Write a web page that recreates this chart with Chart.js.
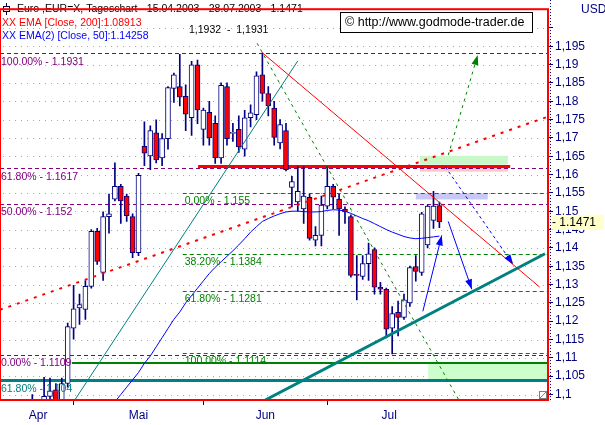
<!DOCTYPE html>
<html lang="de">
<head>
<meta charset="utf-8">
<title>Euro Tageschart</title>
<script src="https://cdn.jsdelivr.net/npm/chart.js@4.4.1/dist/chart.umd.min.js"></script>
<style>
  html, body { margin: 0; padding: 0; background: #ffffff; overflow: hidden; }
  canvas { display: block; }
</style>
</head>
<body>
<canvas id="chartEuro" width="605" height="425"></canvas>
<script>
// Kerzen: Index 0 = 15.04.2003 ... 74 = 28.07.2003 (nur Handelstage)
const opens = [1.0800,1.0830,1.0860,1.0880,1.0900,1.0930,1.0960,1.0950,1.0995,1.1013,
  1.0980,1.1030,1.1181,1.1236,1.1232,1.1295,1.1445,1.1333,1.1485,1.1533,
  1.1568,1.1541,1.1485,1.1387,1.1677,1.1651,1.1714,1.1645,1.1698,1.1835,
  1.1840,1.1813,1.1755,1.1899,1.1723,1.1770,1.1740,1.1645,1.1840,1.1712,
  1.1723,1.1669,1.1755,1.1763,1.1872,1.1821,1.1781,1.1686,1.1720,1.1565,
  1.1525,1.1506,1.1538,1.1421,1.1434,1.1514,1.1568,1.1533,1.1506,1.1485,
  1.1328,1.1322,1.1357,1.1395,1.1293,1.1287,1.1181,1.1224,1.1210,1.1250,
  1.1349,1.1333,1.1408,1.1475,1.1515];
const highs = [1.0850,1.0880,1.0900,1.0920,1.0950,1.1000,1.0980,1.1047,1.1045,1.1030,
  1.1045,1.1195,1.1298,1.1274,1.1311,1.1450,1.1453,1.1498,1.1547,1.1632,
  1.1573,1.1547,1.1493,1.1603,1.1744,1.1733,1.1749,1.1712,1.1840,1.1877,
  1.1928,1.1845,1.1909,1.1912,1.1781,1.1800,1.1760,1.1850,1.1850,1.1740,
  1.1760,1.1775,1.1790,1.1880,1.1932,1.1840,1.1800,1.1750,1.1740,1.1595,
  1.1621,1.1621,1.1546,1.1458,1.1541,1.1621,1.1573,1.1546,1.1512,1.1490,
  1.1379,1.1379,1.1413,1.1400,1.1306,1.1290,1.1240,1.1255,1.1274,1.1350,
  1.1379,1.1497,1.1517,1.1554,1.1525];
const lows = [1.0780,1.0810,1.0840,1.0860,1.0880,1.0910,1.0920,1.0930,1.0950,1.0950,
  1.0960,1.1020,1.1151,1.1191,1.1205,1.1290,1.1355,1.1311,1.1440,1.1528,
  1.1467,1.1472,1.1373,1.1379,1.1624,1.1613,1.1632,1.1624,1.1669,1.1797,
  1.1787,1.1720,1.1707,1.1739,1.1680,1.1680,1.1630,1.1630,1.1680,1.1690,
  1.1660,1.1650,1.1730,1.1750,1.1800,1.1760,1.1680,1.1670,1.1610,1.1512,
  1.1501,1.1467,1.1421,1.1405,1.1405,1.1506,1.1506,1.1434,1.1467,1.1320,
  1.1258,1.1314,1.1311,1.1274,1.1274,1.1154,1.1111,1.1160,1.1205,1.1240,
  1.1309,1.1325,1.1400,1.1453,1.1455];
const closes = [1.0830,1.0860,1.0880,1.0900,1.0930,1.0960,1.0950,1.0995,1.1010,1.0975,
  1.1030,1.1185,1.1234,1.1245,1.1295,1.1445,1.1363,1.1485,1.1493,1.1568,
  1.1528,1.1488,1.1387,1.1598,1.1658,1.1720,1.1640,1.1698,1.1837,1.1872,
  1.1811,1.1765,1.1899,1.1776,1.1776,1.1700,1.1645,1.1843,1.1698,1.1715,
  1.1675,1.1755,1.1768,1.1869,1.1821,1.1787,1.1701,1.1736,1.1613,1.1581,
  1.1554,1.1541,1.1426,1.1434,1.1517,1.1568,1.1538,1.1506,1.1498,1.1325,
  1.1325,1.1357,1.1384,1.1293,1.1287,1.1178,1.1221,1.1210,1.1258,1.1346,
  1.1336,1.1493,1.1514,1.1514,1.1471];

// EMA(2) [Close, 50], beginnt bei Index 17
const emaStart = 17;
const emaValues = [1.0945,1.0965,1.0980,1.1000,1.1020,1.1040,1.1060,1.1085,1.1105,1.1130,
  1.1155,1.1180,1.1205,1.1225,1.1250,1.1270,1.1290,1.1310,1.1330,1.1347,
  1.1362,1.1377,1.1392,1.1408,1.1425,1.1443,1.1458,1.1472,1.1480,1.1487,
  1.1493,1.1498,1.1500,1.1500,1.1499,1.1498,1.1498,1.1499,1.1502,1.1504,
  1.1503,1.1500,1.1494,1.1487,1.1480,1.1474,1.1466,1.1458,1.1450,1.1443,
  1.1437,1.1431,1.1427,1.1425,1.1426,1.1428,1.1430,1.1432];

// Achsen
const monthNames = ['Apr', 'Mai', 'Jun', 'Jul'];
const monthCenters = [6, 23, 44.5, 65.5];
const monthStarts = [12, 34, 55];
const yTicks = [1.1, 1.105, 1.11, 1.115, 1.12, 1.125, 1.13, 1.135, 1.14, 1.145, 1.15,
  1.155, 1.16, 1.165, 1.17, 1.175, 1.18, 1.185, 1.19, 1.195, 1.2];

// Fibonacci-Retracements (links beschriftet)
const fibValues = [1.1931, 1.1617, 1.152, 1.1109];
const fibLabels = ['100.00% - 1.1931', '61.80% - 1.1617', '50.00% - 1.152', '0.00% - 1.1109'];
const fibTealValue = 1.104;
const fibTealLabel = '61.80% - 1.104';

// Fibonacci-Projektion ab Index 30.5
const extStart = 30.5;
const extValues = [1.155, 1.1384, 1.1281, 1.1114];
const extLabels = ['0.00% - 1.155', '38.20% - 1.1384', '61.80% - 1.1281', '100.00% - 1.1114'];

// Zonen [von, bis, unten, oben]
const boxUpperGreen = [70.7, 85.6, 1.1627, 1.1651];
const boxUpperPink = [70.7, 85.6, 1.1608, 1.1624];
const boxBlue = [70.0, 82.2, 1.1532, 1.1549];
const boxLowerGreen = [72.1, 92.4, 1.1040, 1.1085];

// Horizontale Linien [von, bis, Kurs]
const resistanceRed = [33.1, 86.0, 1.1622];
const supportGreen = [11.7, 92.4, 1.1085];

// Trendlinien und Pfeile
const trendRed = [{x: 44, y: 1.1932}, {x: 91, y: 1.1293}];
const trendRedDashed = [{x: -0.5, y: 1.1231}, {x: 92.4, y: 1.1758}];
const trendTealThin = [{x: 12.2, y: 1.0985}, {x: 50.0, y: 1.1910}];
const trendTealThick = [{x: 44.5, y: 1.0985}, {x: 91.9, y: 1.1384}];
const trendGreenDown = [{x: 43.1, y: 1.1958}, {x: 77.3, y: 1.0985}];
const arrowGreenUp = [{x: 75.5, y: 1.1653}, {x: 80.5, y: 1.1926}];
const arrowBlueUp = [{x: 71.2, y: 1.1227}, {x: 74.4, y: 1.1434}];
const arrowBlueDown = [{x: 75.5, y: 1.1472}, {x: 79.5, y: 1.1287}];
const arrowBlueDashed = [{x: 75.0, y: 1.1621}, {x: 86.5, y: 1.1355}];

const NAVY = '#000080';
const FONT_TXT = '10.5px "Liberation Sans", Arial, sans-serif';
const FONT_AXIS = '12px "Liberation Sans", Arial, sans-serif';

// Daten fuer die Kerzen aufbereiten
const wickData = highs.map((h, i) => ({x: i, y: [lows[i], h]}));
const bodyData = opens.map((o, i) => ({x: i, y: [o, closes[i]]}));
const bodyColors = opens.map((o, i) => closes[i] < o ? '#ff0000' : '#ffffff');
const emaData = emaValues.map((v, i) => ({x: emaStart + i, y: v}));

function lineSet(data, color, width, dash) {
    return {
        type: 'line', data: data, borderColor: color, borderWidth: width,
        borderDash: dash || [], pointRadius: 0, tension: 0, clip: 0, order: 3
    };
}

function drawText(ctx, str, x, y, color, font) {
    ctx.font = font || FONT_TXT;
    ctx.fillStyle = color;
    ctx.textAlign = 'left';
    ctx.textBaseline = 'middle';
    ctx.fillText(str, x, y);
}

function drawArrowHead(ctx, x1, y1, x2, y2, color) {
    const ang = Math.atan2(y2 - y1, x2 - x1);
    const len = 10, half = 3.5;
    const bx = x2 - len * Math.cos(ang), by = y2 - len * Math.sin(ang);
    ctx.fillStyle = color;
    ctx.beginPath();
    ctx.moveTo(x2, y2);
    ctx.lineTo(bx - half * Math.sin(ang), by + half * Math.cos(ang));
    ctx.lineTo(bx + half * Math.sin(ang), by - half * Math.cos(ang));
    ctx.closePath();
    ctx.fill();
}

// Zeichnungen auf dem Chart (Raster, Zonen, Fibonacci, Texte)
const zeichnungen = {
    id: 'zeichnungen',
    beforeDatasetsDraw(chart) {
        const {ctx, chartArea: a, scales: {x, y}} = chart;
        ctx.save();
        ctx.beginPath();
        ctx.rect(a.left, a.top, a.width, a.height);
        ctx.clip();

        // gepunktetes Raster an den Kursmarken der Achse
        ctx.fillStyle = '#a8a8a8';
        y.ticks.forEach(t => {
            const py = Math.round(y.getPixelForValue(t.value));
            for (let px = a.left + 3; px < a.right; px += 6) ctx.fillRect(px, py, 1, 1);
        });

        const box = (b, color) => {
            const x0 = x.getPixelForValue(b[0]), x1 = x.getPixelForValue(b[1]);
            const y0 = y.getPixelForValue(b[3]), y1 = y.getPixelForValue(b[2]);
            ctx.fillStyle = color;
            ctx.fillRect(x0, y0, x1 - x0, y1 - y0);
        };
        box(boxUpperGreen, '#c8f8c8');
        box(boxUpperPink, '#f8c8c8');
        box(boxBlue, '#c8c8f8');
        box(boxLowerGreen, '#ccffcc');

        const hline = (x0, x1, v, color, width, dash) => {
            const py = Math.round(y.getPixelForValue(v)) + (width % 2 ? 0.5 : 0);
            ctx.strokeStyle = color;
            ctx.lineWidth = width;
            ctx.setLineDash(dash || []);
            ctx.beginPath();
            ctx.moveTo(x0, py);
            ctx.lineTo(x1, py);
            ctx.stroke();
        };
        fibValues.forEach(v => hline(a.left, a.right, v, '#800080', 1, [4, 3]));
        const xs = x.getPixelForValue(extStart);
        extValues.forEach(v => hline(xs, a.right, v, '#008000', 1, [4, 3]));
        hline(x.getPixelForValue(supportGreen[0]), x.getPixelForValue(supportGreen[1]), supportGreen[2], '#008000', 2);
        hline(a.left, a.right, fibTealValue, '#008080', 3);
        hline(x.getPixelForValue(resistanceRed[0]), x.getPixelForValue(resistanceRed[1]), resistanceRed[2], '#ff0000', 3);
        ctx.restore();
    },
    afterDatasetsDraw(chart) {
        const {ctx, chartArea: a, scales: {x, y}} = chart;
        ctx.save();

        // Pfeilspitzen
        [[arrowGreenUp, '#008000'], [arrowBlueUp, '#0000ff'], [arrowBlueDown, '#0000ff'], [arrowBlueDashed, '#0000ff']]
            .forEach(([pts, color]) => {
                drawArrowHead(ctx, x.getPixelForValue(pts[0].x), y.getPixelForValue(pts[0].y),
                    x.getPixelForValue(pts[1].x), y.getPixelForValue(pts[1].y), color);
            });

        // Beschriftungen der Fibonacci-Linien
        fibValues.forEach((v, i) => drawText(ctx, fibLabels[i], a.left + 1, y.getPixelForValue(v) + 8.5, '#800080'));
        drawText(ctx, fibTealLabel, a.left + 1, y.getPixelForValue(fibTealValue) + 9, '#008080');
        const xs = x.getPixelForValue(extStart) + 2;
        extValues.forEach((v, i) => drawText(ctx, extLabels[i], xs, y.getPixelForValue(v) + 8, '#008000'));

        // Kopfzeile
        ctx.strokeStyle = '#000040';
        ctx.lineWidth = 1;
        ctx.strokeRect(3.5, 6.5, 6, 5);
        ctx.beginPath();
        ctx.moveTo(6.5, 3); ctx.lineTo(6.5, 6.5);
        ctx.moveTo(6.5, 11.5); ctx.lineTo(6.5, 15);
        ctx.stroke();
        drawText(ctx, 'Euro ,EUR=X, Tageschart - 15.04.2003 - 28.07.2003 - 1.1471', 17, 9.5, '#000000');
        drawText(ctx, 'XX EMA [Close, 200]:1.08913', 2, 23.5, '#ff0000');
        drawText(ctx, 'XX EMA(2) [Close, 50]:1.14258', 2, 36, '#0000ff');
        drawText(ctx, '1,1932  -  1,1931', 189, 30, '#000000');

        // Copyright-Kasten
        ctx.fillStyle = '#ffffff';
        ctx.fillRect(340, 12, 193, 21);
        ctx.strokeStyle = '#000000';
        ctx.strokeRect(340.5, 12.5, 192, 20);
        drawText(ctx, '\u00a9 http://www.godmode-trader.de', 345, 22.5, '#000000', '12.5px "Liberation Sans", Arial, sans-serif');

        ctx.restore();
    },
    afterDraw(chart) {
        const {ctx, chartArea: a, scales: {y}} = chart;
        ctx.save();
        // Rahmen
        ctx.strokeStyle = '#ff0000';
        ctx.lineWidth = 2;
        ctx.strokeRect(a.left, a.top, a.width, a.height);
        // gepunktete Achslinie
        ctx.strokeStyle = NAVY;
        ctx.lineWidth = 1;
        ctx.setLineDash([1, 2]);
        ctx.beginPath();
        ctx.moveTo(a.right + 2.5, 0);
        ctx.lineTo(a.right + 2.5, a.bottom);
        ctx.stroke();
        ctx.setLineDash([]);
        // kleines Symbol unten rechts
        ctx.fillStyle = '#ffffff';
        ctx.fillRect(a.right - 9, a.bottom - 9, 7, 7);
        ctx.strokeStyle = '#808080';
        ctx.strokeRect(a.right - 8.5, a.bottom - 8.5, 7, 7);
        ctx.beginPath();
        ctx.moveTo(a.right - 8, a.bottom - 2);
        ctx.lineTo(a.right - 2, a.bottom - 8);
        ctx.stroke();
        // Waehrung
        drawText(ctx, 'USD', 581, 10, NAVY, FONT_AXIS);
        // letzter Kurs
        const last = closes[closes.length - 1];
        const py = y.getPixelForValue(last);
        ctx.fillStyle = '#ffffcc';
        ctx.fillRect(a.right + 3, py - 7, 604 - a.right - 3, 15);
        drawText(ctx, '- ' + last.toFixed(4), a.right + 4, py + 0.5, '#000000', FONT_AXIS);
        ctx.restore();
    }
};

new Chart(document.getElementById('chartEuro'), {
    type: 'bar',
    data: {
        datasets: [
            {
                type: 'bar', label: 'Docht', data: wickData, backgroundColor: NAVY,
                borderWidth: 0, barThickness: 1, grouped: false, order: 20
            },
            {
                type: 'bar', label: 'Koerper', data: bodyData, backgroundColor: bodyColors,
                borderColor: NAVY, borderWidth: 1, borderSkipped: false, barThickness: 5,
                grouped: false, order: 19
            },
            Object.assign(lineSet(emaData, '#0000ff', 1), {order: 6}),
            lineSet(trendRed, '#ff0000', 1),
            lineSet(trendRedDashed, '#ff0000', 2, [3, 6]),
            lineSet(trendTealThin, '#008080', 1),
            lineSet(trendTealThick, '#008080', 3),
            lineSet(trendGreenDown, '#008000', 1, [3, 4]),
            lineSet(arrowGreenUp, '#008000', 1, [3, 4]),
            lineSet(arrowBlueUp, '#0000ff', 1),
            lineSet(arrowBlueDown, '#0000ff', 1),
            lineSet(arrowBlueDashed, '#0000ff', 1, [3, 3])
        ]
    },
    options: {
        responsive: false,
        animation: false,
        devicePixelRatio: 1,
        layout: { padding: { left: 0, top: 1, right: 0, bottom: 0 } },
        plugins: { legend: { display: false }, tooltip: { enabled: false } },
        scales: {
            x: {
                type: 'linear',
                min: -0.475,
                max: 92.41,
                offset: false,
                grid: {
                    offset: false,
                    drawOnChartArea: false,
                    tickLength: 5,
                    tickColor: (c) => (c.tick && monthStarts.includes(c.tick.value)) ? NAVY : 'rgba(0,0,0,0)'
                },
                border: { display: false },
                afterBuildTicks: (scale) => {
                    scale.ticks = monthCenters.concat(monthStarts).sort((p, q) => p - q).map(v => ({value: v}));
                },
                afterFit: (scale) => { scale.height = 25; },
                ticks: {
                    autoSkip: false,
                    maxRotation: 0,
                    padding: 3,
                    color: NAVY,
                    font: { family: '"Liberation Sans", Arial, sans-serif', size: 12 },
                    callback: (value) => {
                        const i = monthCenters.indexOf(value);
                        return i >= 0 ? monthNames[i] : '';
                    }
                }
            },
            y: {
                type: 'linear',
                position: 'right',
                min: 1.0985,
                max: 1.2051,
                grid: {
                    drawOnChartArea: false,
                    color: NAVY,
                    tickColor: NAVY,
                    tickLength: 5
                },
                border: { display: false },
                afterBuildTicks: (scale) => { scale.ticks = yTicks.map(v => ({value: v})); },
                afterFit: (scale) => { scale.width = 57; },
                ticks: {
                    padding: 2,
                    color: NAVY,
                    font: { family: '"Liberation Sans", Arial, sans-serif', size: 12 },
                    callback: (value) => value >= 1.1999 ? '' : String(+value.toFixed(3)).replace('.', ',')
                }
            }
        }
    },
    plugins: [zeichnungen]
});
</script>
</body>
</html>
